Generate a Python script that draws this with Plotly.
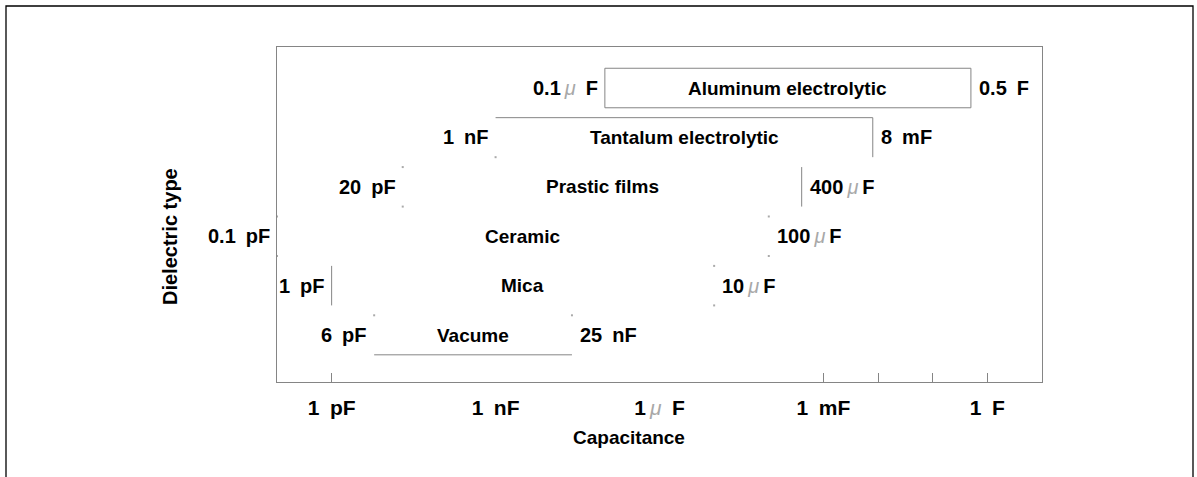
import math
import plotly.graph_objects as go

# Capacitance ranges per dielectric type (farads)
dielectrics = ["Aluminum electrolytic", "Tantalum electrolytic", "Prastic films",
               "Ceramic", "Mica", "Vacume"]
cap_min = [0.1e-6, 1e-9, 20e-12, 0.1e-12, 1e-12, 6e-12]
cap_max = [0.5, 8e-3, 400e-6, 100e-6, 10e-6, 25e-9]
min_text = ["0.1μ F", "1 nF", "20 pF", "0.1 pF", "1 pF", "6 pF"]
max_text = ["0.5 F", "8 mF", "400μF", "100μF", "10μF", "25 nF"]

# x axis labels
tick_vals = [1e-12, 1e-9, 1e-6, 1e-3, 1]
tick_text = ["1 pF", "1 nF", "1μ F", "1 mF", "1 F"]
minor_tick_vals = [1e-12, 1e-3, 1e-2, 1e-1, 1]

# which outline edges of each range box are drawn (t, b, l, r)
edge_style = ["tblr", "tr", "r", "", "l", "b"]

FONT = "Liberation Sans, Arial, sans-serif"
LINE = "#858585"
W, H = 1197, 477
ML, MR, MT, MB = 277, 155, 47, 95

rows = list(range(len(dielectrics), 0, -1))
half = 0.4

MU = '<span style="font-weight:normal;font-style:italic;color:#a8a8a8">μ</span>'


def fmt(label):
    """Bold value label: en-space before the unit, thin grey mu."""
    s = label.replace("μ ", "\x00\u2002").replace("μ", "\x00\u2009")
    s = s.replace(" ", "\u2002")
    return s.replace("\x00", "\u2009" + MU)


fig = go.Figure()

# range boxes (white fill)
fig.add_trace(go.Bar(
    y=rows, x=[hi - lo for lo, hi in zip(cap_min, cap_max)], base=cap_min,
    orientation="h", width=2 * half,
    marker=dict(color="white", line=dict(width=0)),
    hoverinfo="skip", showlegend=False,
))

# visible outline edges, plus faint dots at the remaining corners
ex, ey = [], []
dx, dy = [], []
for lo, hi, r, edges in zip(cap_min, cap_max, rows, edge_style):
    top, bot = r + half, r - half
    if "t" in edges:
        ex += [lo, hi, None]; ey += [top, top, None]
    if "b" in edges:
        ex += [lo, hi, None]; ey += [bot, bot, None]
    if "l" in edges:
        ex += [lo, lo, None]; ey += [bot, top, None]
    if "r" in edges:
        ex += [hi, hi, None]; ey += [bot, top, None]
    for cx, cy, c in [(lo, top, "tl"), (hi, top, "tr"), (lo, bot, "bl"), (hi, bot, "br")]:
        if c[0] not in edges and c[1] not in edges:
            dx.append(cx); dy.append(cy)

fig.add_trace(go.Scatter(x=ex, y=ey, mode="lines", line=dict(color=LINE, width=1),
                         hoverinfo="skip", showlegend=False))
fig.add_trace(go.Scatter(x=dx, y=dy, mode="markers",
                         marker=dict(size=2, color="#aaaaaa", symbol="square"),
                         hoverinfo="skip", showlegend=False))

value_font = dict(family=FONT, size=20, color="black", weight="bold")
name_font = dict(family=FONT, size=19, color="black", weight="bold")
annotations = []
for name, lo, hi, r, lt, rt in zip(dielectrics, cap_min, cap_max, rows, min_text, max_text):
    annotations.append(dict(x=math.log10(lo), y=r, xref="x", yref="y", text=fmt(lt),
                            xanchor="right", yanchor="middle", xshift=-5,
                            showarrow=False, font=value_font))
    annotations.append(dict(x=math.log10(hi), y=r, xref="x", yref="y", text=fmt(rt),
                            xanchor="left", yanchor="middle", xshift=6,
                            showarrow=False, font=value_font))
    annotations.append(dict(x=(math.log10(lo) + math.log10(hi)) / 2, y=r,
                            xref="x", yref="y", text=name,
                            xanchor="center", yanchor="middle",
                            showarrow=False, font=name_font))

pw, ph = W - ML - MR, H - MT - MB
annotations.append(dict(x=(629 - ML) / pw, y=(H - MB - 437) / ph, xref="paper", yref="paper",
                        text="Capacitance", showarrow=False,
                        xanchor="center", yanchor="middle",
                        font=dict(family=FONT, size=19, color="black", weight="bold")))
annotations.append(dict(x=(170 - ML) / pw, y=(H - MB - 237) / ph, xref="paper", yref="paper",
                        text="Dielectric type", showarrow=False, textangle=-90,
                        xanchor="center", yanchor="middle",
                        font=dict(family=FONT, size=20, color="black", weight="bold")))

# outer frame around the whole figure
shapes = [dict(type="rect", xref="paper", yref="paper",
               x0=(6 - ML) / pw, x1=(1193 - ML) / pw,
               y0=(H - MB - 490) / ph, y1=(H - MB - 6) / ph,
               line=dict(color="black", width=1.3), fillcolor="rgba(0,0,0,0)", layer="below")]

fig.update_layout(
    width=W, height=H,
    margin=dict(l=ML, r=MR, t=MT, b=MB, pad=0),
    paper_bgcolor="white", plot_bgcolor="white",
    showlegend=False,
    annotations=annotations, shapes=shapes,
    xaxis=dict(type="log", range=[-13, 1], tickvals=tick_vals,
               ticktext=[fmt(t) for t in tick_text], ticks="",
               tickfont=dict(family=FONT, size=21, color="black", weight="bold"),
               ticklabelstandoff=7,
               showline=True, linecolor=LINE, linewidth=1, mirror=True,
               showgrid=False, zeroline=False),
    xaxis2=dict(type="log", range=[-13, 1], overlaying="x", anchor="y",
                tickvals=minor_tick_vals, ticks="inside", ticklen=9,
                tickcolor=LINE, tickwidth=1, showticklabels=False,
                showline=False, showgrid=False, zeroline=False),
    yaxis=dict(range=[0.05, 6.83], showticklabels=False, ticks="",
               showline=True, linecolor=LINE, linewidth=1, mirror=True,
               showgrid=False, zeroline=False),
)

# empty trace so the tick overlay axis is rendered
fig.add_trace(go.Scatter(x=[1e-12], y=[None], xaxis="x2", mode="markers",
                         hoverinfo="skip", showlegend=False))

fig.write_html("out.html")
